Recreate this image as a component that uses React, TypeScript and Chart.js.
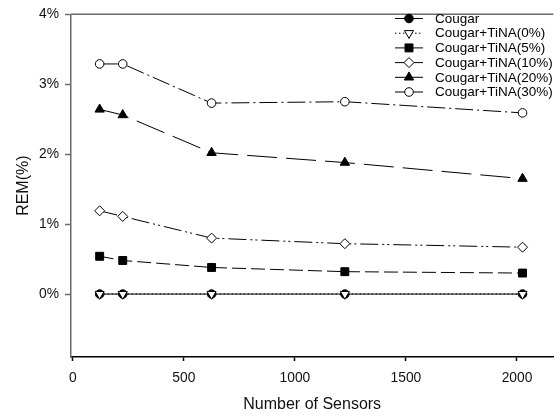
import React, { useEffect, useRef } from 'react';
import { Chart, registerables } from 'chart.js';
import { drawPoint } from 'chart.js/helpers';

Chart.register(...registerables);

const sensors = [121, 225, 625, 1225, 2025];
const cougar = [0, 0, 0, 0, 0];
const tina0 = [0, 0, 0, 0, 0];
const tina5 = [0.54, 0.48, 0.38, 0.32, 0.3];
const tina10 = [1.19, 1.11, 0.8, 0.72, 0.67];
const tina20 = [2.64, 2.56, 2.02, 1.88, 1.65];
const tina30 = [3.29, 3.29, 2.73, 2.75, 2.59];
const seriesNames = [
  'Cougar',
  'Cougar+TiNA(0%)',
  'Cougar+TiNA(5%)',
  'Cougar+TiNA(10%)',
  'Cougar+TiNA(20%)',
  'Cougar+TiNA(30%)',
];
const yTicks = [0, 1, 2, 3, 4];
const xTicks = [0, 500, 1000, 1500, 2000];

const FONT = '"Liberation Sans", Arial, sans-serif';

const styles = [
  { dash: [], pointStyle: 'circle', rot: 0, fill: '#000', r: 4.3 },
  { dash: [1.5, 2.5], pointStyle: 'triangle', rot: 180, fill: '#fff', r: 5.2 },
  { dash: [14, 5], pointStyle: 'rect', rot: 0, fill: '#000', r: 5.6 },
  { dash: [18, 4, 2, 3, 2, 4], pointStyle: 'rectRot', rot: 0, fill: '#fff', r: 5 },
  { dash: [30, 9], pointStyle: 'triangle', rot: 0, fill: '#000', r: 5.4 },
  { dash: [18, 4, 2, 4], pointStyle: 'circle', rot: 0, fill: '#fff', r: 4.3 },
];

const seriesValues = [cougar, tina0, tina5, tina10, tina20, tina30];

const frameAndLegend = {
  id: 'frameAndLegend',
  afterDraw(chart: any) {
    const { ctx, chartArea } = chart;
    ctx.save();
    ctx.strokeStyle = '#6a6a6a';
    ctx.lineWidth = 1.5;
    ctx.beginPath();
    ctx.moveTo(chartArea.left, chartArea.top);
    ctx.lineTo(chartArea.right, chartArea.top);
    ctx.stroke();

    const x0 = 395;
    const x1 = 423;
    const mx = 409;
    const tx = 435;
    chart.data.datasets.forEach((ds: any, i: number) => {
      const y = 18.5 + i * 14.7;
      const st = styles[i];
      ctx.strokeStyle = '#000';
      ctx.lineWidth = 1;
      ctx.setLineDash(i === 1 ? [1.5, 2.5] : i === 3 || i === 5 ? [10, 3, 2, 3] : []);
      ctx.beginPath();
      ctx.moveTo(x0, y);
      ctx.lineTo(x1, y);
      ctx.stroke();
      ctx.setLineDash([]);
      ctx.fillStyle = st.fill;
      ctx.strokeStyle = '#000';
      drawPoint(ctx, { pointStyle: st.pointStyle, rotation: st.rot, radius: st.r, borderWidth: 1 } as any, mx, y);
      ctx.fillStyle = '#000';
      ctx.font = `13.5px ${FONT}`;
      ctx.textAlign = 'left';
      ctx.textBaseline = 'middle';
      ctx.fillText(ds.label, tx, y + 0.5);
    });
    ctx.restore();
  },
};

export default function App() {
  const ref = useRef<HTMLCanvasElement | null>(null);
  useEffect(() => {
    if (!ref.current) return;
    const datasets = seriesValues.map((vals, i) => ({
      label: seriesNames[i],
      data: vals.map((v, j) => ({ x: sensors[j], y: v })),
      order: 10 - i,
      borderColor: '#000',
      borderWidth: 1,
      borderDash: styles[i].dash,
      pointStyle: styles[i].pointStyle,
      pointRotation: styles[i].rot,
      pointRadius: styles[i].r,
      pointBackgroundColor: styles[i].fill,
      pointBorderColor: '#000',
      pointBorderWidth: 1,
      fill: false,
      tension: 0,
    }));
    const chart = new Chart(ref.current, {
      type: 'line',
      data: { datasets },
      plugins: [frameAndLegend],
      options: {
        responsive: false,
        animation: false,
        devicePixelRatio: 1,
        layout: { padding: { top: 10, left: 0, right: 0, bottom: 0 } },
        plugins: { legend: { display: false }, tooltip: { enabled: false } },
        scales: {
          x: {
            type: 'linear',
            min: -8,
            max: 2164,
            afterBuildTicks: (s: any) => {
              s.ticks = xTicks.map((v) => ({ value: v }));
            },
            afterFit: (s: any) => {
              s.height = 61;
            },
            border: { display: true, color: '#000', width: 1.5 },
            grid: { drawOnChartArea: false, drawTicks: true, tickLength: 4, color: '#000', tickWidth: 1.5 },
            ticks: {
              color: '#111',
              font: { family: FONT, size: 13.8 },
              padding: 9,
              maxRotation: 0,
              callback: (v: any) => String(v),
            },
            title: {
              display: true,
              text: 'Number of Sensors',
              color: '#111',
              font: { family: FONT, size: 16 },
              padding: { top: 0, bottom: 4 },
            },
          },
          y: {
            type: 'linear',
            min: -0.9,
            max: 4,
            afterBuildTicks: (s: any) => {
              s.ticks = yTicks.map((v) => ({ value: v }));
            },
            afterFit: (s: any) => {
              s.width = 71;
            },
            border: { display: true, color: '#6a6a6a', width: 1.5 },
            grid: { drawOnChartArea: false, drawTicks: true, tickLength: 6, color: '#6a6a6a', tickWidth: 1.5 },
            ticks: {
              color: '#111',
              font: { family: FONT, size: 13.8 },
              padding: 6,
              callback: (v: any) => `${v}%`,
            },
            title: {
              display: true,
              text: 'REM(%)',
              color: '#111',
              font: { family: FONT, size: 16 },
              padding: { top: 14, bottom: 0 },
            },
          },
        },
      },
    });
    return () => chart.destroy();
  }, []);
  return (
    <div style={{ position: 'fixed', left: 0, top: 0, width: 560, height: 418, background: '#fff' }}>
      <canvas ref={ref} width={560} height={418} style={{ display: 'block', width: 560, height: 418 }} />
    </div>
  );
}
